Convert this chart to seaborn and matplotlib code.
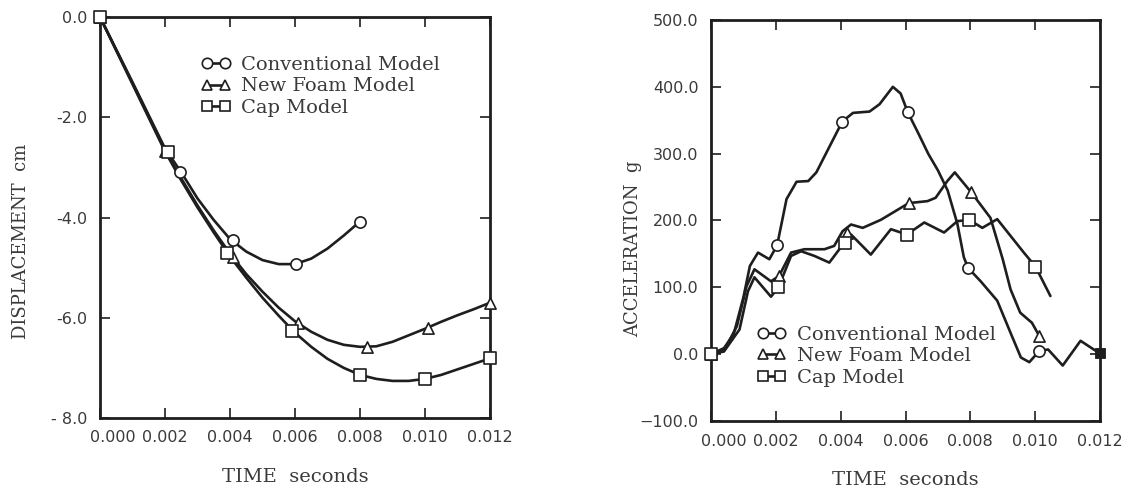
import seaborn as sns
import matplotlib.pyplot as plt
import matplotlib.transforms as mtransforms
from matplotlib.lines import Line2D

# ---- displacement panel (time in s, displacement in cm) ----
conv_t = [0, 0.001, 0.002, 0.0025, 0.003, 0.0035, 0.004, 0.0045, 0.005, 0.0055, 0.006, 0.0065, 0.007, 0.0075, 0.008]
conv_d = [0, -1.3, -2.62, -3.1, -3.62, -4.05, -4.43, -4.68, -4.85, -4.93, -4.93, -4.82, -4.62, -4.36, -4.08]
foam_t = [0, 0.001, 0.002, 0.0025, 0.003, 0.0035, 0.004, 0.0045, 0.005, 0.0055, 0.006, 0.0065, 0.007,
          0.0075, 0.008, 0.0085, 0.009, 0.0095, 0.010, 0.0105, 0.011, 0.0115, 0.012]
foam_d = [0, -1.32, -2.66, -3.22, -3.76, -4.26, -4.72, -5.13, -5.48, -5.8, -6.07, -6.28, -6.44,
          -6.54, -6.58, -6.57, -6.48, -6.35, -6.22, -6.08, -5.95, -5.83, -5.7]
cap_t = [0, 0.001, 0.002, 0.0025, 0.003, 0.0035, 0.004, 0.0045, 0.005, 0.0055, 0.006, 0.0065, 0.007,
         0.0075, 0.008, 0.0085, 0.009, 0.0095, 0.010, 0.0105, 0.011, 0.0115, 0.012]
cap_d = [0, -1.34, -2.68, -3.26, -3.8, -4.3, -4.78, -5.2, -5.6, -5.96, -6.3, -6.58, -6.82,
         -7.0, -7.14, -7.22, -7.26, -7.26, -7.22, -7.14, -7.03, -6.92, -6.81]

conv_mt = [0, 0.00247, 0.00409, 0.00602, 0.008]
conv_md = [0, -3.09, -4.45, -4.93, -4.08]
foam_mt = [0, 0.002, 0.0041, 0.0061, 0.0082, 0.0101, 0.012]
foam_md = [0, -2.68, -4.78, -6.1, -6.59, -6.21, -5.7]
cap_mt = [0, 0.00209, 0.0039, 0.0059, 0.008, 0.010, 0.012]
cap_md = [0, -2.70, -4.7, -6.27, -7.14, -7.22, -6.81]

# ---- acceleration panel (time in s, acceleration in g) ----
acc_conv_t = [0, 0.0004, 0.0007, 0.001, 0.0012, 0.00145, 0.0018, 0.00204, 0.00233, 0.00264, 0.003, 0.00325,
              0.00366, 0.00405, 0.00438, 0.00489, 0.0052, 0.00561, 0.00585, 0.00607, 0.0064, 0.0067, 0.007,
              0.0073, 0.0076, 0.0078, 0.00793, 0.00832, 0.00883, 0.00924, 0.00956, 0.00982, 0.01013, 0.0104,
              0.01085, 0.0114, 0.01187, 0.012]
acc_conv_g = [0, 9, 30, 85, 132, 152, 142, 163, 232, 258, 259, 272,
              311, 348, 361, 363, 374, 400, 390, 362, 330, 300, 275,
              245, 195, 145, 129, 109, 80, 32, -5, -12, 5, 7,
              -17, 20, 5, 2]
acc_foam_t = [0, 0.0004, 0.0008, 0.0011, 0.00134, 0.00185, 0.0021, 0.00247, 0.00288, 0.0035, 0.0038, 0.00406,
              0.00432, 0.00468, 0.00524, 0.0061, 0.00668, 0.00693, 0.00729, 0.00752, 0.00803, 0.00862, 0.009,
              0.00924, 0.00954, 0.0099, 0.01013]
acc_foam_g = [0, 5, 42, 102, 127, 109, 117, 152, 157, 157, 162, 184,
              194, 189, 201, 226, 229, 234, 259, 272, 242, 204, 142,
              97, 62, 47, 27]
acc_cap_t = [0, 0.0004, 0.00088, 0.00114, 0.00134, 0.00185, 0.00208, 0.00247, 0.00278, 0.00319, 0.00365, 0.00396,
             0.00413, 0.00432, 0.00493, 0.00555, 0.00604, 0.00658, 0.00719, 0.0076, 0.00796, 0.00837, 0.00883,
             0.00924, 0.00965, 0.01001, 0.01047]
acc_cap_g = [0, 4, 37, 94, 115, 86, 100, 147, 154, 147, 137, 157,
             167, 179, 149, 187, 179, 197, 182, 199, 201, 189, 202,
             177, 152, 131, 87]

acc_conv_mt = [0, 0.00204, 0.00405, 0.00607, 0.00793, 0.01013]
acc_conv_mg = [0, 163, 348, 362, 129, 5]
acc_foam_mt = [0, 0.0021, 0.00418, 0.0061, 0.00803, 0.01013]
acc_foam_mg = [0, 117, 181, 226, 242, 27]
acc_cap_mt = [0, 0.00208, 0.00413, 0.00604, 0.00796, 0.01001]
acc_cap_mg = [0, 100, 167, 179, 201, 131]
acc_end_t = [0.012]
acc_end_g = [2]

labels = ["Conventional Model", "New Foam Model", "Cap Model"]
markers = ["o", "^", "s"]

sns.set_style("ticks")
plt.rcParams["font.family"] = ["DejaVu Sans"]

INK = "#1e1e1e"
TXT = "#3a3a3a"
LW = 1.9

fig = plt.figure(figsize=(11.29, 4.91), dpi=100)
ax1 = fig.add_axes([100 / 1129, 1 - 418 / 491, 390 / 1129, 401 / 491])
ax2 = fig.add_axes([711 / 1129, 1 - 421 / 491, 389 / 1129, 401 / 491])


def draw(ax, series, marks):
    for (t, v) in series:
        sns.lineplot(x=t, y=v, ax=ax, color=INK, linewidth=LW, sort=False, estimator=None)
    for (t, v), m in zip(marks, markers):
        sns.scatterplot(x=t, y=v, ax=ax, marker=m, s=65, facecolor="white",
                        edgecolor=INK, linewidth=1.2, zorder=3, clip_on=False)


draw(ax1, [(conv_t, conv_d), (foam_t, foam_d), (cap_t, cap_d)],
     [(conv_mt, conv_md), (foam_mt, foam_md), (cap_mt, cap_md)])
draw(ax2, [(acc_conv_t, acc_conv_g), (acc_foam_t, acc_foam_g), (acc_cap_t, acc_cap_g)],
     [(acc_conv_mt, acc_conv_mg), (acc_foam_mt, acc_foam_mg), (acc_cap_mt, acc_cap_mg)])
sns.scatterplot(x=acc_end_t, y=acc_end_g, ax=ax2, marker="s", s=60, color=INK,
                edgecolor=INK, zorder=4, clip_on=False)

xt = [0, 0.002, 0.004, 0.006, 0.008, 0.010, 0.012]
xt_lab = ["0.000", "0.002", "0.004", "0.006", "0.008", "0.010", "0.012"]

ax1.set_xlim(0, 0.012)
ax1.set_ylim(-8, 0)
ax1.set_yticks([0, -2, -4, -6, -8])
ax1.set_yticklabels(["0.0", "-2.0", "-4.0", "-6.0", "- 8.0"])
ax2.set_xlim(0, 0.012)
ax2.set_ylim(-100, 500)
ax2.set_yticks([-100, 0, 100, 200, 300, 400, 500])
ax2.set_yticklabels(["\u2212100.0", "0.0", "100.0", "200.0", "300.0", "400.0", "500.0"])

for ax in (ax1, ax2):
    ax.set_xticks(xt)
    ax.set_xticklabels(xt_lab)
    ax.tick_params(direction="in", length=7.5, width=1.2, color=INK, top=True, right=True,
                   labelsize=11.5, labelcolor=TXT, pad=9)
    for s in ax.spines.values():
        s.set_visible(True)
        s.set_linewidth(2.0)
        s.set_color(INK)
    # first time label sits a bit right of the corner
    lab0 = ax.get_xticklabels()[0]
    lab0.set_transform(lab0.get_transform() + mtransforms.ScaledTranslation(0.13, 0, fig.dpi_scale_trans))
    ax.set_xlabel("TIME  seconds", family="DejaVu Serif", fontsize=14, color=TXT)
    ax.xaxis.set_label_coords(0.5, -0.125)

ax1.set_ylabel("DISPLACEMENT  cm", family="DejaVu Serif", fontsize=13, color=TXT)
ax1.yaxis.set_label_coords(-0.18, 0.44)
ax2.set_ylabel("ACCELERATION  g", family="DejaVu Serif", fontsize=13, color=TXT)
ax2.yaxis.set_label_coords(-0.178, 0.43)

handles = [Line2D([], [], color=INK, lw=LW, marker=m, ms=7.5, mfc="white", mec=INK, mew=1.2)
           for m in markers]
for ax, anchor in ((ax1, (0.26, 0.903)), (ax2, (0.118, 0.238))):
    ax.legend(handles, labels, loc="upper left", bbox_to_anchor=anchor, frameon=False,
              numpoints=2, handlelength=1.5, handletextpad=0.55, labelspacing=0.18,
              borderpad=0, borderaxespad=0, prop={"family": "DejaVu Serif", "size": 14},
              labelcolor=TXT)

plt.savefig("out.png", dpi=100)
